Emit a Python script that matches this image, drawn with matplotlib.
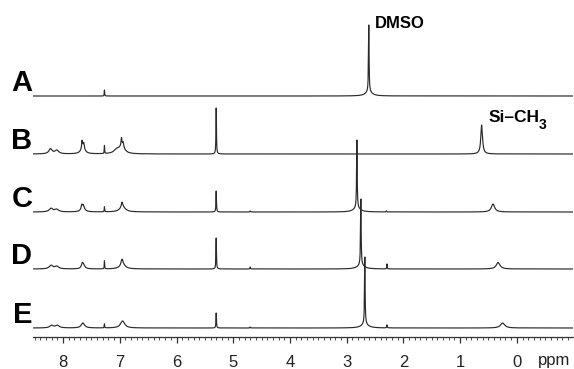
import numpy as np
import matplotlib
matplotlib.use("Agg")
import matplotlib.pyplot as plt
from matplotlib.ticker import MultipleLocator

plt.rcParams['font.family'] = ['Liberation Sans', 'DejaVu Sans']

# ---- data: peaks per spectrum (ppm position, height in plot units, half-width in ppm)
labels = ["A", "B", "C", "D", "E"]
offsets = [241, 183, 125, 68, 9]

peaks_A = [(2.61, 67, 0.006), (2.61, 4, 0.07), (7.27, 6, 0.004)]
peaks_B = [(8.22, 5, 0.035), (8.11, 3.5, 0.04), (7.665, 7, 0.008), (7.635, 5, 0.01),
           (7.65, 7, 0.04), (7.27, 8, 0.004), (7.05, 4, 0.06), (6.97, 7, 0.008),
           (6.94, 4, 0.01), (6.96, 8, 0.05), (5.30, 46, 0.005), (0.62, 29, 0.018)]
peaks_C = [(8.21, 3.5, 0.04), (8.11, 2.5, 0.04), (7.67, 4, 0.012), (7.64, 3, 0.015),
           (7.65, 4, 0.04), (7.27, 5, 0.004), (6.96, 5, 0.015), (6.95, 5, 0.06),
           (5.30, 21, 0.005), (4.70, 1, 0.005), (2.82, 68, 0.006), (2.82, 4, 0.07),
           (2.30, 1, 0.005), (0.42, 8, 0.035)]
peaks_D = [(8.21, 3.5, 0.04), (8.11, 2.5, 0.04), (7.66, 4, 0.02), (7.64, 3.5, 0.03),
           (7.27, 8, 0.004), (6.96, 6, 0.02), (6.95, 4, 0.06), (5.30, 31, 0.005),
           (4.70, 2, 0.005), (2.75, 66, 0.006), (2.75, 4, 0.07), (2.29, 5, 0.004),
           (0.33, 6.5, 0.04)]
peaks_E = [(8.20, 2.5, 0.04), (8.10, 2.5, 0.04), (7.65, 5, 0.035), (7.27, 4, 0.004),
           (6.95, 7, 0.045), (5.30, 15, 0.005), (4.70, 1, 0.005), (2.68, 67, 0.006),
           (2.68, 4, 0.07), (2.29, 3, 0.005), (0.25, 5, 0.045)]
all_peaks = [peaks_A, peaks_B, peaks_C, peaks_D, peaks_E]

xticks = [8, 7, 6, 5, 4, 3, 2, 1, 0]
xlim = (8.53, -0.99)

# ---- figure
fig = plt.figure(figsize=(5.74, 3.69), dpi=100)
W, H = 574, 369
ax = fig.add_axes([33 / W, (H - 337) / H, 540 / W, 337 / H])

x = np.linspace(xlim[1], xlim[0], 30000)
for lab, off, pk in zip(labels, offsets, all_peaks):
    y = np.zeros_like(x)
    for p0, h, w in pk:
        y += h * w ** 2 / ((x - p0) ** 2 + w ** 2)
    ax.plot(x, y + off, color='#2a2a2a', lw=0.85)
    ax.text(-0.001, off + 5, lab, transform=ax.get_yaxis_transform(),
            ha='right', va='baseline', fontsize=21, fontweight='bold', color='black')

ax.set_xlim(*xlim)
ax.set_ylim(0, 337)
ax.set_xticks(xticks)
ax.xaxis.set_minor_locator(MultipleLocator(0.1))
ax.tick_params(axis='x', which='major', direction='out', length=4.5, width=0.9,
               pad=8.5, labelsize=12, color='#333333', labelcolor='#222222')
ax.tick_params(axis='x', which='minor', direction='out', length=2.2, width=0.6,
               color='#333333')
ax.set_yticks([])
for s in ['top', 'left', 'right']:
    ax.spines[s].set_visible(False)
ax.spines['bottom'].set_color('#333333')
ax.spines['bottom'].set_linewidth(0.9)

ax.text(2.50, 314, "DMSO", fontsize=12, fontweight='bold', ha='left', va='center')
t1 = ax.text(0.49, 220, "Si\u2013CH", fontsize=12.5, fontweight='bold', ha='left', va='center')
ax.annotate("3", xy=(1.0, 0.0), xycoords=t1, xytext=(-0.8, -0.5), textcoords='offset points',
            fontsize=10, fontweight='bold', ha='left', va='center')
fig.text(538 / W, (H - 361) / H, "ppm", fontsize=12, ha='left', va='center', color='#222222')

fig.savefig("out.png", dpi=100)
